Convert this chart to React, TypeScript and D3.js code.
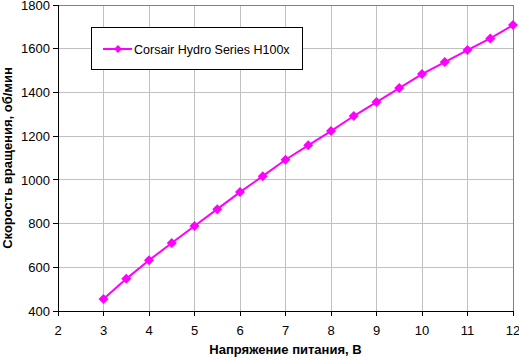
import React from "react";
import * as d3 from "d3";

const voltages = [3, 3.5, 4, 4.5, 5, 5.5, 6, 6.5, 7, 7.5, 8, 8.5, 9, 9.5, 10, 10.5, 11, 11.5, 12];
const rpm = [455, 547, 632, 711, 789, 866, 944, 1017, 1092, 1158, 1223, 1292, 1356, 1420, 1484, 1539, 1594, 1647, 1708];
const xTicks = [2, 3, 4, 5, 6, 7, 8, 9, 10, 11, 12];
const yTicks = [400, 600, 800, 1000, 1200, 1400, 1600, 1800];
const seriesName = "Corsair Hydro Series H100x";
const xTitle = "Напряжение питания, В";
const yTitle = "Скорость вращения, об/мин";

export default function App() {
  const W = 519, H = 357;
  const left = 58, right = 513, top = 5, bottom = 311;
  const x = d3.scaleLinear().domain([2, 12]).range([left, right]);
  const y = d3.scaleLinear().domain([400, 1800]).range([bottom, top]);
  const line = d3.line<number>().x((_, i) => x(voltages[i])).y((d) => y(d));
  const font = "Arial, 'Liberation Sans', sans-serif";
  const diamond = (cx: number, cy: number, r = 5) =>
    `M${cx},${cy - r}L${cx + r},${cy}L${cx},${cy + r}L${cx - r},${cy}Z`;
  return (
    <svg width={W} height={H} style={{ position: "absolute", left: 0, top: 0, background: "#fff" }} fontFamily={font}>
      <rect x={0} y={0} width={W} height={H} fill="#fff" />
      {yTicks.map((t) => (
        <line key={"gy" + t} x1={left} x2={right} y1={y(t)} y2={y(t)} stroke="#c0c0c0" strokeWidth={1} shapeRendering="crispEdges" />
      ))}
      {xTicks.map((t) => (
        <line key={"gx" + t} x1={x(t)} x2={x(t)} y1={top} y2={bottom} stroke="#c0c0c0" strokeWidth={1} shapeRendering="crispEdges" />
      ))}
      <line x1={left} x2={right} y1={top} y2={top} stroke="#808080" shapeRendering="crispEdges" />
      <line x1={right} x2={right} y1={top} y2={bottom} stroke="#808080" shapeRendering="crispEdges" />
      <line x1={left} x2={left} y1={top} y2={bottom} stroke="#000" shapeRendering="crispEdges" />
      <line x1={left} x2={right} y1={bottom} y2={bottom} stroke="#000" shapeRendering="crispEdges" />
      {yTicks.map((t) => (
        <g key={"ty" + t}>
          <line x1={left - 5} x2={left} y1={y(t)} y2={y(t)} stroke="#000" shapeRendering="crispEdges" />
          <text x={left - 8} y={y(t) + 4.7} textAnchor="end" fontSize={13}>{t}</text>
        </g>
      ))}
      {xTicks.map((t) => (
        <g key={"tx" + t}>
          <line x1={x(t)} x2={x(t)} y1={bottom} y2={bottom + 5} stroke="#000" shapeRendering="crispEdges" />
          <text x={x(t)} y={bottom + 24} textAnchor="middle" fontSize={13}>{t}</text>
        </g>
      ))}
      <path d={line(rpm) || ""} fill="none" stroke="#ff00ff" strokeWidth={2} />
      {rpm.map((v, i) => (
        <path key={"m" + i} d={diamond(x(voltages[i]), y(v))} fill="#ff00ff" />
      ))}
      <text x={(left + right) / 2} y={354} textAnchor="middle" fontSize={13} fontWeight="bold">{xTitle}</text>
      <text transform={`translate(12,${(top + bottom) / 2}) rotate(-90)`} textAnchor="middle" fontSize={13} fontWeight="bold">{yTitle}</text>
      <rect x={91.5} y={27.5} width={211} height={42} fill="#fff" stroke="#000" strokeWidth={1} />
      <line x1={103} x2={132} y1={49} y2={49} stroke="#ff00ff" strokeWidth={2} />
      <path d={diamond(118, 49, 4)} fill="#ff00ff" />
      <text x={134} y={53.5} fontSize={12.5}>{seriesName}</text>
    </svg>
  );
}
